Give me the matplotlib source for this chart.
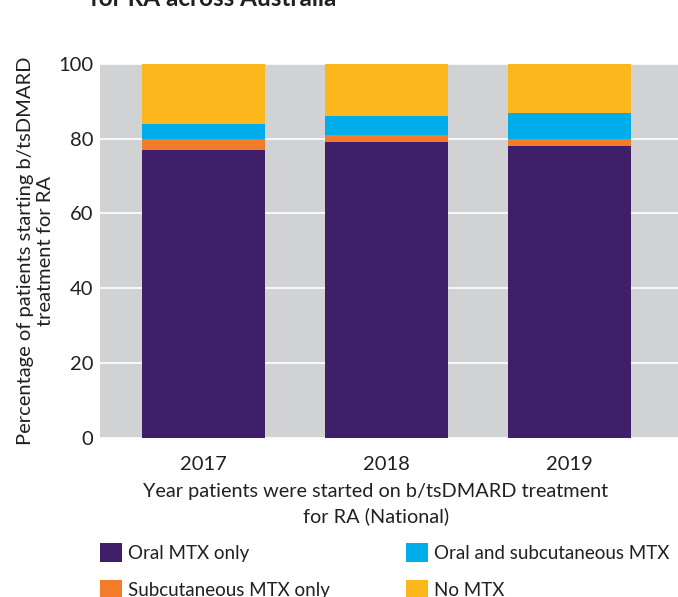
import matplotlib
matplotlib.use("Agg")
import matplotlib.pyplot as plt
import numpy as np

plt.rcParams['font.family'] = ['Lato', 'DejaVu Sans']

# data
years = ["2017", "2018", "2019"]
oral_only = [77, 79, 78]
subcut_only = [3, 2, 2]
oral_and_subcut = [4, 5, 7]
no_mtx = [16, 14, 13]

series_labels = ["Oral MTX only", "Subcutaneous MTX only",
                 "Oral and subcutaneous MTX", "No MTX"]
colors = ["#3f1f69", "#f47b2a", "#00adeb", "#fbb71c"]
text_color = '#231f20'


def main():
    fig = plt.figure(figsize=(6.78, 5.97), dpi=100)
    ax = fig.add_axes([0.1475, 0.2668, 0.8525, 0.626])
    ax.set_facecolor("#d0d2d4")

    x = np.arange(len(years))
    bottom = np.zeros(len(years))
    bars = []
    for vals, color in zip([oral_only, subcut_only, oral_and_subcut, no_mtx], colors):
        b = ax.bar(x, vals, width=0.672, bottom=bottom, color=color, zorder=3)
        bars.append(b)
        bottom += np.array(vals)

    ax.set_xlim(-0.566, 2.593)
    ax.set_ylim(0, 100)
    ax.set_yticks([0, 20, 40, 60, 80, 100])
    ax.set_xticks(x)
    ax.set_xticklabels(years)
    ax.grid(axis='y', color='white', linewidth=1.2, zorder=0)
    ax.tick_params(axis='both', length=0, labelsize=14.5, colors=text_color)
    ax.tick_params(axis='x', pad=13)
    ax.tick_params(axis='y', pad=5)
    for s in ax.spines.values():
        s.set_visible(False)

    ax.set_xlabel("Year patients were started on b/tsDMARD treatment\nfor RA (National)",
                  fontsize=14.3, color=text_color, linespacing=1.45)
    ax.xaxis.set_label_coords(0.4775, -0.122, transform=ax.transAxes)
    ax.set_ylabel("Percentage of patients starting b/tsDMARD\ntreatment for RA",
                  fontsize=14.5, color=text_color, labelpad=3, linespacing=1.2)

    # title, cut off at the top of the crop
    fig.text(0.133, 0.99, "for RA across Australia", fontsize=17.5, fontweight='bold',
             color=text_color, va='baseline', ha='left')

    fig.legend(bars, series_labels, loc='upper left', bbox_to_anchor=(0.1475, 0.09),
               ncol=2, frameon=False, fontsize=13.5, handlelength=1.17, handleheight=1.17,
               handletextpad=0.32, columnspacing=4.05, labelspacing=0.96,
               labelcolor=text_color, borderaxespad=0, borderpad=0)

    fig.savefig("out.png", dpi=100)


if __name__ == "__main__":
    main()
